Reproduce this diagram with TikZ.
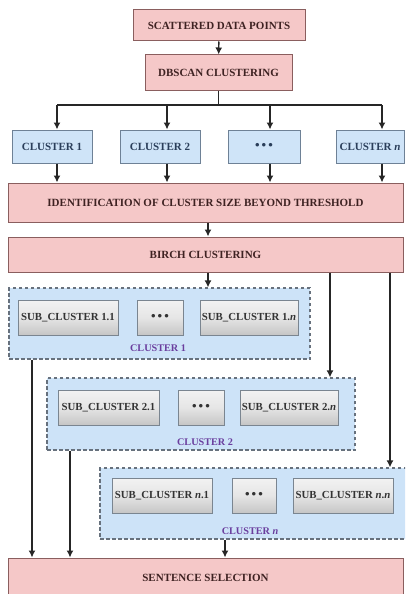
\documentclass[tikz,border=0pt]{standalone}
\usepackage{fontspec}
\setmainfont{Liberation Serif}
\usetikzlibrary{arrows.meta}

\definecolor{pinkfill}{HTML}{F5C8C8}
\definecolor{pinkdraw}{HTML}{8A5E5E}
\definecolor{pinktext}{HTML}{3E2222}
\definecolor{bluefill}{HTML}{CFE4F8}
\definecolor{bluedraw}{HTML}{6E8196}
\definecolor{bluetext}{HTML}{2A3E5A}
\definecolor{groupfill}{HTML}{CDE3F8}
\definecolor{groupdraw}{HTML}{67717D}
\definecolor{subdraw}{HTML}{7A8590}
\definecolor{labelpurple}{HTML}{6A3E9E}

\tikzset{
  pinkbox/.style={draw=pinkdraw, fill=pinkfill, line width=1pt, inner sep=0pt,
    text=pinktext, font=\bfseries\fontsize{11}{13}\selectfont},
  bluebox/.style={draw=bluedraw, fill=bluefill, line width=1pt, inner sep=0pt,
    minimum height=33pt, text=bluetext, font=\bfseries\fontsize{11}{13}\selectfont},
  groupbox/.style={draw=groupdraw, fill=groupfill, line width=1.2pt,
    dash pattern=on 3.5pt off 2.5pt, inner sep=0pt},
  subbox/.style={draw=subdraw, line width=1pt, inner sep=0pt, minimum height=35pt,
    top color=gray!10, bottom color=gray!45, middle color=gray!20,
    text=black!80, font=\bfseries\fontsize{10.8}{12}\selectfont},
  grouplabel/.style={text=labelpurple, inner sep=0pt, font=\bfseries\fontsize{10.2}{12}\selectfont},
  arr/.style={line width=1.4pt, draw=black!85, -{Latex[length=7pt,width=7pt]}},
  wire/.style={line width=1.4pt, draw=black!85},
}

\newcommand{\dotsrow}{{\fontsize{13}{13}\selectfont\textbullet\,\textbullet\,\textbullet}}

\begin{document}
\begin{tikzpicture}[x=1pt,y=-1pt]
  \clip (0,0) rectangle (405,594);
  \fill[white] (0,0) rectangle (405,594);

  % first stage: density clustering
  \node[pinkbox, minimum width=172pt, minimum height=31pt] (sdp) at (219,25.5) {SCATTERED DATA POINTS};
  \node[pinkbox, minimum width=147pt, minimum height=35pt] (dbscan) at (218.5,72.5) {DBSCAN CLUSTERING};

  \node[bluebox, minimum width=80pt] (c1) at (52,146.5) {CLUSTER 1};
  \node[bluebox, minimum width=80pt] (c2) at (160,146.5) {CLUSTER 2};
  \node[bluebox, minimum width=72pt] (cd) at (264,146.5) {\dotsrow};
  \node[bluebox, minimum width=68pt] (cn) at (370,146.5) {CLUSTER \textit{n}};

  \node[pinkbox, minimum width=395pt, minimum height=39pt] (ident) at (205.5,202.5)
    {IDENTIFICATION OF CLUSTER SIZE BEYOND THRESHOLD};
  \node[pinkbox, minimum width=395pt, minimum height=35pt] (birch) at (205.5,254.5) {BIRCH CLUSTERING};

  % second stage: sub-clusters of each large cluster
  \node[groupbox, minimum width=301pt, minimum height=71pt] (g1) at (159.5,323.5) {};
  \node[subbox, minimum width=100pt] (s11) at (68,317.5) {SUB\_CLUSTER 1.1};
  \node[subbox, minimum width=46pt] (s1d) at (160,317.5) {\dotsrow};
  \node[subbox, minimum width=98pt] (s1n) at (249,317.5) {SUB\_CLUSTER 1.\textit{n}};
  \node[grouplabel] (l1) at (158,348) {CLUSTER 1};

  \node[groupbox, minimum width=308pt, minimum height=72pt] (g2) at (201,414) {};
  \node[subbox, minimum width=101pt] (s21) at (108.5,407.5) {SUB\_CLUSTER 2.1};
  \node[subbox, minimum width=46pt] (s2d) at (201,407.5) {\dotsrow};
  \node[subbox, minimum width=98pt] (s2n) at (289,407.5) {SUB\_CLUSTER 2.\textit{n}};
  \node[grouplabel] (l2) at (205,442) {CLUSTER 2};

  \node[groupbox, minimum width=310pt, minimum height=71pt] (gn) at (255,503.5) {};
  \node[subbox, minimum width=100pt] (sn1) at (162,495.5) {SUB\_CLUSTER \textit{n}.1};
  \node[subbox, minimum width=44pt] (snd) at (254,495.5) {\dotsrow};
  \node[subbox, minimum width=100pt] (snn) at (343,495.5) {SUB\_CLUSTER \textit{n}.\textit{n}};
  \node[grouplabel] (ln) at (250,531) {CLUSTER \textit{n}};

  \node[pinkbox, minimum width=395pt, minimum height=40pt] (sel) at (205.5,578) {SENTENCE SELECTION};

  % connectors
  \draw[arr] (sdp) -- (dbscan);

  \coordinate (bus) at (218.5,105);
  \coordinate (k1) at (57,105);
  \coordinate (k2) at (167,105);
  \coordinate (k3) at (270,105);
  \coordinate (k4) at (382,105);
  \draw[wire] (dbscan.south) -- (bus);
  \draw[wire] (k1) -- (k4);
  \draw[arr] (k1) -- (k1 |- c1.north);
  \draw[arr] (k2) -- (k2 |- c2.north);
  \draw[arr] (k3) -- (k3 |- cd.north);
  \draw[arr] (k4) -- (k4 |- cn.north);

  \draw[arr] (k1 |- c1.south) -- (k1 |- ident.north);
  \draw[arr] (k2 |- c2.south) -- (k2 |- ident.north);
  \draw[arr] (k3 |- cd.south) -- (k3 |- ident.north);
  \draw[arr] (k4 |- cn.south) -- (k4 |- ident.north);

  \coordinate (m) at (208,0);
  \draw[arr] (m |- ident.south) -- (m |- birch.north);
  \draw[arr] (m |- birch.south) -- (m |- g1.north);

  \coordinate (r2) at (330,0);
  \coordinate (rn) at (390,0);
  \draw[arr] (r2 |- birch.south) -- (r2 |- g2.north);
  \draw[arr] (rn |- birch.south) -- (rn |- gn.north);

  \coordinate (d1) at (32,0);
  \coordinate (d2) at (70,0);
  \coordinate (dn) at (225,0);
  \draw[arr] (d1 |- g1.south) -- (d1 |- sel.north);
  \draw[arr] (d2 |- g2.south) -- (d2 |- sel.north);
  \draw[arr] (dn |- gn.south) -- (dn |- sel.north);
\end{tikzpicture}
\end{document}
